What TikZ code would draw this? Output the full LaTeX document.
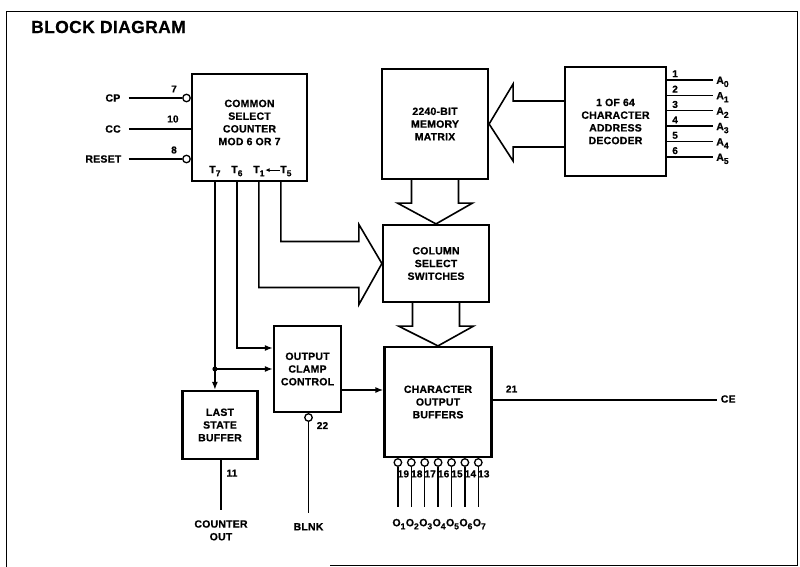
\documentclass[tikz,border=0pt]{standalone}
\usepackage{fontspec}
\setmainfont{Liberation Sans}[FakeBold=0.6,LetterSpace=2]
\usetikzlibrary{calc,arrows.meta}
\newcommand\mysub[1]{\raisebox{-0.55ex}{\fontsize{8.5}{8.5}\selectfont #1}}
\begin{document}
\begin{tikzpicture}[x=1pt,y=-1pt,
  blk/.style={draw,line width=2.2pt,inner sep=0pt},
  btxt/.style={align=center,inner sep=0pt,font=\bfseries\fontsize{10.5}{12.7}\selectfont},
  ln/.style={line width=1.5pt},
  arr/.style={line width=1.5pt,-{Latex[length=8pt,width=6pt]}},
  hol/.style={line width=1.6pt,line join=miter},
  bub/.style={circle,draw,line width=1.3pt,fill=white,minimum size=7.5pt,inner sep=0pt},
  lbl/.style={inner sep=0pt,font=\bfseries\fontsize{10.5}{12.7}\selectfont},
  pin/.style={inner sep=0pt,font=\bfseries\fontsize{10}{10}\selectfont}]
\useasboundingbox (0,0) rectangle (800,567);
% frame
\draw[line width=1pt] (330,565) -- (797,565) -- (797,12) -- (6,12) -- (6,567);
\node[anchor=west,inner sep=0pt,font=\bfseries\fontsize{17.5}{19}\selectfont] (title) at (31,27) {BLOCK DIAGRAM};

% blocks
\node[blk,minimum width=115pt,minimum height=107pt] (csc) at (249.5,127.5) {};
\node[btxt] (csct) at ($(csc.center)+(0,-5)$) {COMMON\\SELECT\\COUNTER\\MOD 6 OR 7};
\node[blk,btxt,minimum width=106pt,minimum height=110pt] (mem) at (435,124) {2240-BIT\\MEMORY\\MATRIX};
\node[blk,btxt,minimum width=101pt,minimum height=109pt] (dec) at (615.5,121.5) {1 OF 64\\CHARACTER\\ADDRESS\\DECODER};
\node[blk,btxt,minimum width=106pt,minimum height=77pt] (col) at (436,263.5) {COLUMN\\SELECT\\SWITCHES};
\node[blk,btxt,minimum width=67pt,minimum height=86pt] (clamp) at (307.5,369) {OUTPUT\\CLAMP\\CONTROL};
\node[blk,btxt,minimum width=75pt,minimum height=68pt] (lsb) at (220,425) {LAST\\STATE\\BUFFER};
\node[blk,btxt,minimum width=107pt,minimum height=110pt] (char) at (438,402) {CHARACTER\\OUTPUT\\BUFFERS};

% counter inputs
\node[bub,anchor=east] (b7) at ($(csc.west)+(0,-29.5)$) {};
\node[bub,anchor=east] (b8) at ($(csc.west)+(0,31.5)$) {};
\coordinate (c10) at ($(csc.west)+(0,1.5)$);
\coordinate (ecp) at ($(b7.center)+(-58,0)$);
\coordinate (ecc) at ($(c10)+(-62,0)$);
\coordinate (ers) at ($(b8.center)+(-58,0)$);
\draw[ln] (ecp) -- (b7);
\draw[ln] (ecc) -- (c10);
\draw[ln] (ers) -- (b8);
\node[lbl,anchor=east] (lcp) at ($(ecp)+(-8,0)$) {CP};
\node[lbl,anchor=east] (lcc) at ($(ecc)+(-8,0)$) {CC};
\node[lbl,anchor=east] (lrs) at ($(ers)+(-7,0)$) {RESET};
\node[pin] (n7) at ($(b7.center)+(-12.5,-9)$) {7};
\node[pin] (n10) at ($(c10)+(-18,-10)$) {10};
\node[pin] (n8) at ($(b8.center)+(-12.5,-9)$) {8};

% T outputs
\coordinate (p7) at ($(csc.south west)+(24,0)$);
\coordinate (p6) at ($(csc.south west)+(46,0)$);
\coordinate (p1) at ($(csc.south west)+(68,0)$);
\coordinate (p5) at ($(csc.south west)+(90,0)$);
\node[lbl] (t7) at ($(p7)+(0,-11)$) {T\mysub{7}};
\node[lbl] (t6) at ($(p6)+(0,-11)$) {T\mysub{6}};
\node[lbl] (t1) at ($(p1)+(0,-11)$) {T\mysub{1}};
\node[lbl] (t5) at ($(p5)+(5,-11)$) {T\mysub{5}};
\draw[line width=0.9pt,-{Latex[length=4.5pt,width=4pt]},shorten <=0.5pt,shorten >=0.5pt] ($(t5.west)+(0,-1)$) -- ($(t1.east)+(0,-1)$);

% hollow arrows
\draw[hol] (p5) |- ($(col.west)+(-23,-22)$) -- ($(col.west)+(-23,-39)$) -- (col.west) -- ($(col.west)+(-23,41)$) -- ($(col.west)+(-23,24)$) -| (p1);
\coordinate (mt) at ($(mem.east)+(0,-23)$);
\coordinate (mb) at ($(mem.east)+(0,23)$);
\draw[hol] (dec.west |- mt) -- ($(mt)+(24,0)$) -- ($(mem.east)+(24,-40)$) -- (mem.east) -- ($(mem.east)+(24,37)$) -- ($(mb)+(24,0)$) -- (dec.west |- mb);
\draw[hol] ($(mem.south)+(-23.5,0)$) -- ++(0,23) -- ++(-14,0) -- (col.north) -- ($(mem.south)+(37.5,23)$) -- ++(-14,0) -- ($(mem.south)+(23.5,0)$);
\draw[hol] ($(col.south)+(-23.5,0)$) -- ++(0,23) -- ++(-14,0) -- (char.north) -- ($(col.south)+(37.5,23)$) -- ++(-14,0) -- ($(col.south)+(23.5,0)$);

% T6, T7 connections
\coordinate (dot) at (p7 |- clamp.west);
\draw[arr] (p6) |- ($(clamp.west)+(0,-21)$);
\draw[arr] (p7) -- (p7 |- lsb.north);
\draw[arr] (dot) -- (clamp.west);
\fill (dot) circle (2.5pt);
\coordinate (cc) at ($(clamp.east)+(0,21)$);
\draw[arr] (cc) -- (char.west |- cc);

% counter out
\coordinate (co) at ($(lsb.south)+(1,50)$);
\draw[ln] ($(lsb.south)+(1,0)$) -- (co);
\node[pin] (n11) at ($(lsb.south)+(12,13)$) {11};
\node[lbl,align=center,anchor=north] (cout) at ($(co)+(0,10)$) {COUNTER\\OUT};

% blank
\node[bub,anchor=north] (b22) at ($(clamp.south)+(1,0)$) {};
\coordinate (bl) at ($(b22.south)+(0,91)$);
\draw[ln] (b22) -- (bl);
\node[pin] (n22) at ($(b22.center)+(14,8)$) {22};
\node[lbl,anchor=north] (blnk) at ($(bl)+(0,10)$) {BLNK};

% CE
\coordinate (ce) at ($(char.east)+(224,-2)$);
\draw[ln] ($(char.east)+(0,-2)$) -- (ce);
\node[pin] (n21) at ($(char.east)+(19,-13)$) {21};
\node[lbl,anchor=west] (lce) at ($(ce)+(4,-1)$) {CE};

% address inputs
\foreach \i in {0,...,5}{
  \coordinate (ad\i) at ($(dec.north east)+(0,14+15.4*\i)$);
  \coordinate (ae\i) at ($(ad\i)+(46,0)$);
  \draw[ln] (ad\i) -- (ae\i);
  \pgfmathtruncatemacro\nn{\i+1}
  \node[pin,anchor=south west] (pn\i) at ($(ad\i)+(5,-2.5)$) {\nn};
  \node[lbl,anchor=base west] (an\i) at ($(ae\i)+(3,4)$) {A\mysub{\i}};
}

% outputs
\foreach \xo/\n [count=\k] in {14.5/19,27.9/18,41.3/17,54.7/16,68.1/15,81.5/14,94.9/13}{
  \node[bub,anchor=north] (ob\k) at ($(char.south west)+(\xo,0)$) {};
  \coordinate (oe\k) at ($(char.south west)+(\xo,49)$);
  \draw[ln] (ob\k) -- (oe\k);
  \node[pin] (on\k) at ($(ob\k.south)+(5.5,7)$) {\n};
  \node[lbl] (ol\k) at ($(char.south west)+(\xo+1,66)$) {O\mysub{\k}};
}
\end{tikzpicture}
\end{document}
